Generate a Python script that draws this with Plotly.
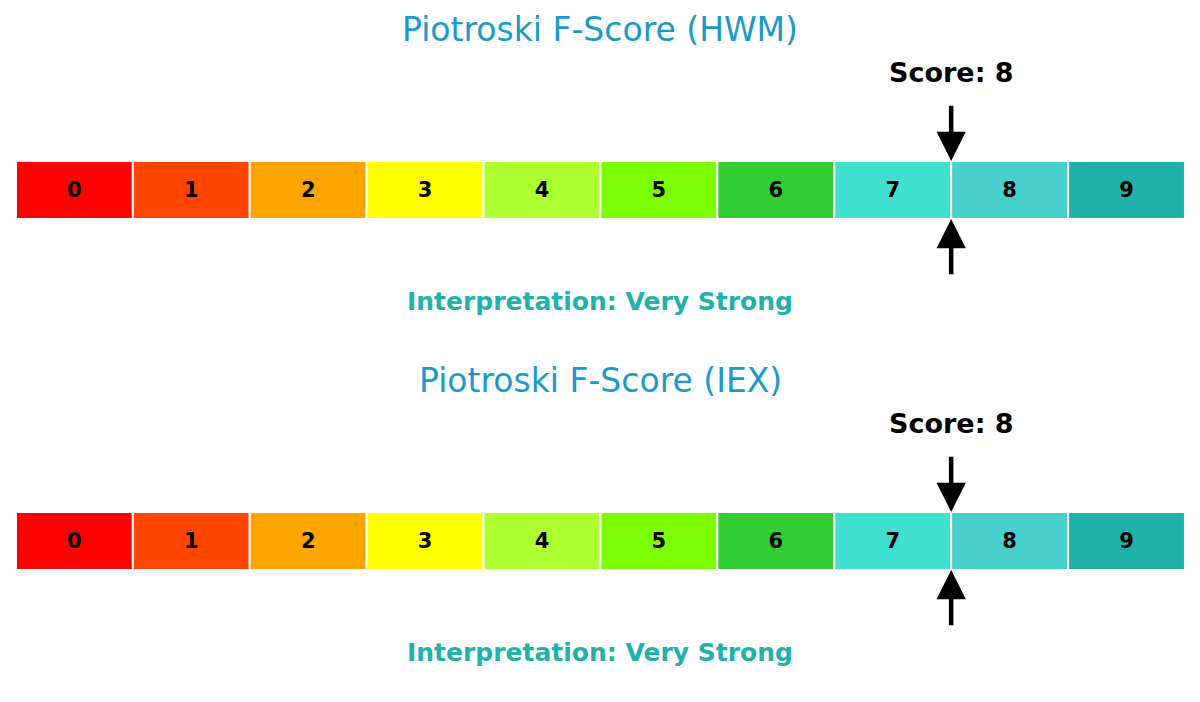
import plotly.graph_objects as go
from plotly.subplots import make_subplots

# data
tickers = ["HWM", "IEX"]
scores = [8, 8]
interpretations = ["Very Strong", "Very Strong"]
levels = list(range(10))
level_colors = ["#FF0000", "#FF4500", "#FFA500", "#FFFF00", "#ADFF2F",
                "#7CFC00", "#32CD32", "#40E0D0", "#48D1CC", "#20B2AA"]

TITLE_COLOR = "#1a9ac9"
INTERP_COLOR = "#20B2AA"
FONT = "DejaVu Sans"

fig = make_subplots(rows=2, cols=1, vertical_spacing=0.0)

for r, (tic, score, interp) in enumerate(zip(tickers, scores, interpretations), start=1):
    # the scale, one stacked segment per level
    for lvl, col in zip(levels, level_colors):
        fig.add_trace(go.Bar(
            x=[1], y=[0.5], base=[lvl], width=[1], orientation="h",
            marker=dict(color=col, line=dict(color="white", width=2)),
            text=[f"<b>{lvl}</b>"], textposition="inside", insidetextanchor="middle",
            textfont=dict(family=FONT, size=21, color="black"),
            showlegend=False, hoverinfo="skip",
        ), row=r, col=1)

    xr = "x" if r == 1 else "x2"
    yr = "y" if r == 1 else "y2"
    # title
    fig.add_annotation(x=5, y=3.26, xref=xr, yref=yr, text=f"Piotroski F-Score ({tic})",
                       showarrow=False, font=dict(family=FONT, size=33, color=TITLE_COLOR))
    # score label
    fig.add_annotation(x=score, y=2.52, xref=xr, yref=yr, text=f"<b>Score: {score}</b>",
                       showarrow=False, font=dict(family=FONT, size=27, color="black"))
    # arrows above and below
    fig.add_annotation(x=score, y=1.0, ax=score, ay=1.98, xref=xr, yref=yr,
                       axref=xr, ayref=yr, text="", showarrow=True,
                       arrowhead=2, arrowsize=1.3, arrowwidth=4.5, arrowcolor="black")
    fig.add_annotation(x=score, y=0.0, ax=score, ay=-0.98, xref=xr, yref=yr,
                       axref=xr, ayref=yr, text="", showarrow=True,
                       arrowhead=2, arrowsize=1.3, arrowwidth=4.5, arrowcolor="black")
    # interpretation
    fig.add_annotation(x=5, y=-1.43, xref=xr, yref=yr, text=f"<b>Interpretation: {interp}</b>",
                       showarrow=False, font=dict(family=FONT, size=25, color=INTERP_COLOR))

fig.update_xaxes(range=[-0.068, 10.197], visible=False, fixedrange=True)
fig.update_yaxes(range=[-2.414, 3.638], visible=False, fixedrange=True)
fig.update_layout(
    barmode="overlay",
    width=1200, height=702,
    margin=dict(l=0, r=0, t=0, b=0),
    plot_bgcolor="white", paper_bgcolor="white",
    font=dict(family=FONT),
)

fig.write_html("out.html")
